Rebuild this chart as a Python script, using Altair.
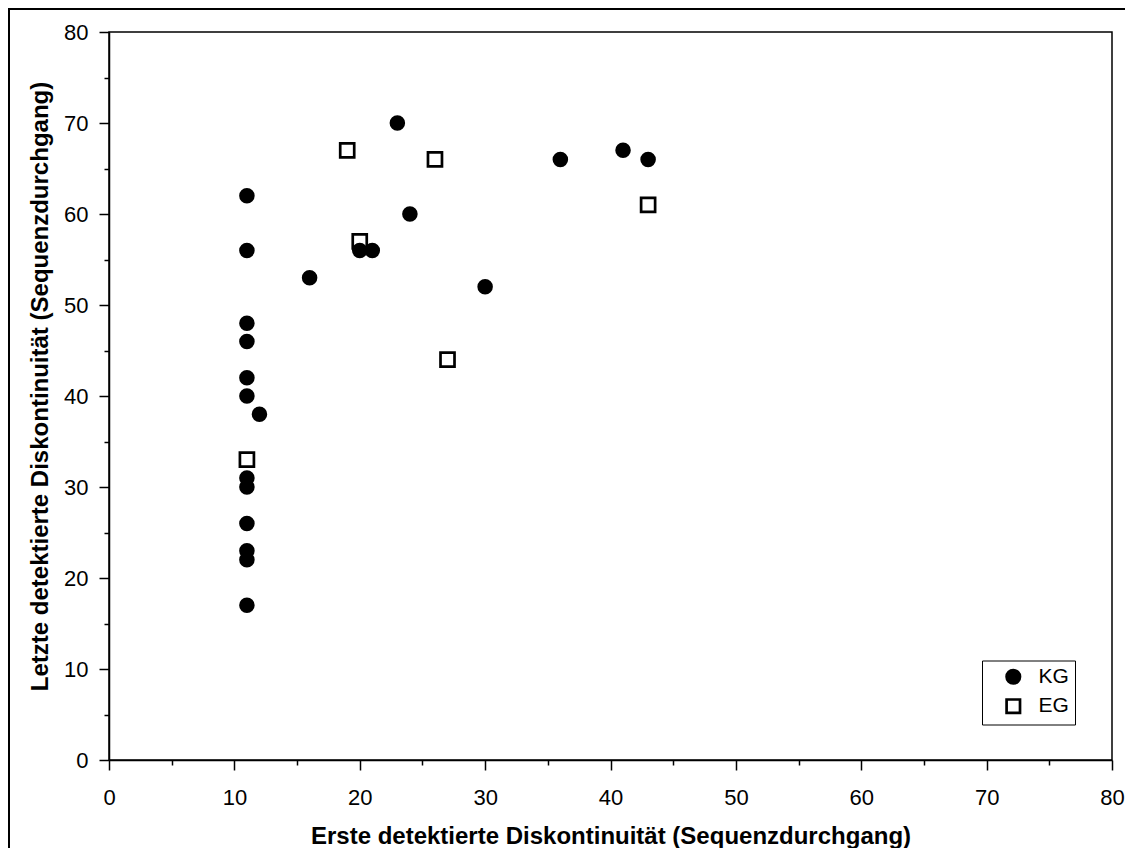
import altair as alt
import pandas as pd

# --- data ---
kg_x = [11, 11, 11, 11, 11, 11, 11, 11, 11, 11, 11, 11, 12, 16, 20, 21, 23, 24, 30, 36, 41, 43]
kg_y = [62, 56, 48, 46, 42, 40, 31, 30, 26, 23, 22, 17, 38, 53, 56, 56, 70, 60, 52, 66, 67, 66]
eg_x = [11, 19, 20, 26, 27, 43]
eg_y = [33, 67, 57, 66, 44, 61]
groups = ["KG", "EG"]
major_ticks = [0, 10, 20, 30, 40, 50, 60, 70, 80]
minor_ticks = [5, 15, 25, 35, 45, 55, 65, 75]
x_title = "Erste detektierte Diskontinuität (Sequenzdurchgang)"
y_title = "Letzte detektierte Diskontinuität (Sequenzdurchgang)"

rows = [{"x": a, "y": b, "group": "EG", "sz": 196} for a, b in zip(eg_x, eg_y)]
rows += [{"x": a, "y": b, "group": "KG", "sz": 165} for a, b in zip(kg_x, kg_y)]
df = pd.DataFrame(rows)

FONT = "Liberation Sans"
W, H = 1003, 728
PAD_L, PAD_T, PAD_R, PAD_B = 101, 24, 13, 88

xs = alt.Scale(domain=[0, 80], nice=False, zero=False)
ys = alt.Scale(domain=[0, 80], nice=False, zero=False)

common_axis = dict(grid=False, domainColor="black", tickColor="black", labelColor="black",
                   titleColor="black", labelFont=FONT, titleFont=FONT, domainWidth=1.5,
                   tickWidth=1.5)

major_x = alt.Axis(values=major_ticks, orient="bottom", title=x_title, tickSize=10,
                   labelPadding=34, labelBaseline="alphabetic", labelFontSize=22,
                   labelFlush=False, titleFontSize=24, titleFontWeight="bold",
                   titleX=W / 2, titleY=83, titleBaseline="alphabetic", format="d",
                   **common_axis)
major_y = alt.Axis(values=major_ticks, orient="left", title=y_title, tickSize=10,
                   labelPadding=11, labelFontSize=22, labelFlush=False,
                   titleFontSize=24, titleFontWeight="bold", titleX=-62, titleY=354,
                   titleBaseline="alphabetic", titleAngle=270, format="d", **common_axis)
minor_x = alt.Axis(values=minor_ticks, orient="bottom", tickSize=5, labels=False,
                   domain=False, title=None, grid=False, tickColor="black", tickWidth=1.5)
minor_y = alt.Axis(values=minor_ticks, orient="left", tickSize=5, labels=False,
                   domain=False, title=None, grid=False, tickColor="black", tickWidth=1.5)

legend = alt.Legend(orient="none", legendX=873, legendY=628.5, title=None,
                    strokeColor="black", padding=5.8, labelFont=FONT, labelFontSize=21,
                    labelColor="black", symbolSize=180, symbolStrokeColor="black",
                    symbolStrokeWidth=2.7, symbolOffset=15, labelOffset=14.7,
                    rowPadding=4.4, fillColor="white")

fill = alt.Fill("group:N", scale=alt.Scale(domain=groups, range=["black", "white"]),
                legend=legend, title=None)
stroke = alt.Stroke("group:N", scale=alt.Scale(domain=groups, range=["black", "black"]),
                    legend=legend, title=None)
shape = alt.Shape("group:N", scale=alt.Scale(domain=groups, range=["circle", "square"]),
                  legend=legend, title=None)

base = alt.Chart(df).mark_point(filled=False, strokeWidth=2.7, opacity=1)

eg_layer = base.transform_filter(alt.datum.group == "EG").encode(
    x=alt.X("x:Q", scale=xs, axis=minor_x),
    y=alt.Y("y:Q", scale=ys, axis=minor_y),
    fill=fill, stroke=stroke, shape=shape,
    size=alt.Size("sz:Q", scale=None),
)
kg_layer = base.transform_filter(alt.datum.group == "KG").encode(
    x=alt.X("x:Q", scale=xs, axis=major_x),
    y=alt.Y("y:Q", scale=ys, axis=major_y),
    fill=fill, stroke=stroke, shape=shape,
    size=alt.Size("sz:Q", scale=None),
)

frame = alt.Chart(alt.Data(values=[{"a": 1}])).mark_rect(
    fill="transparent", stroke="black", strokeWidth=2
).encode(x=alt.value(-PAD_L + 1), x2=alt.value(1040), y=alt.value(-PAD_T + 1), y2=alt.value(840))

chart = alt.layer(eg_layer, kg_layer, frame).resolve_axis(
    x="independent", y="independent"
).properties(
    width=W, height=H,
    autosize=alt.AutoSizeParams(type="none"),
    padding={"left": PAD_L, "top": PAD_T, "right": PAD_R, "bottom": PAD_B},
    background="white",
).configure_view(stroke="black", strokeWidth=1.5)

chart.save("out.html", embed_options={"renderer": "svg", "actions": False})
